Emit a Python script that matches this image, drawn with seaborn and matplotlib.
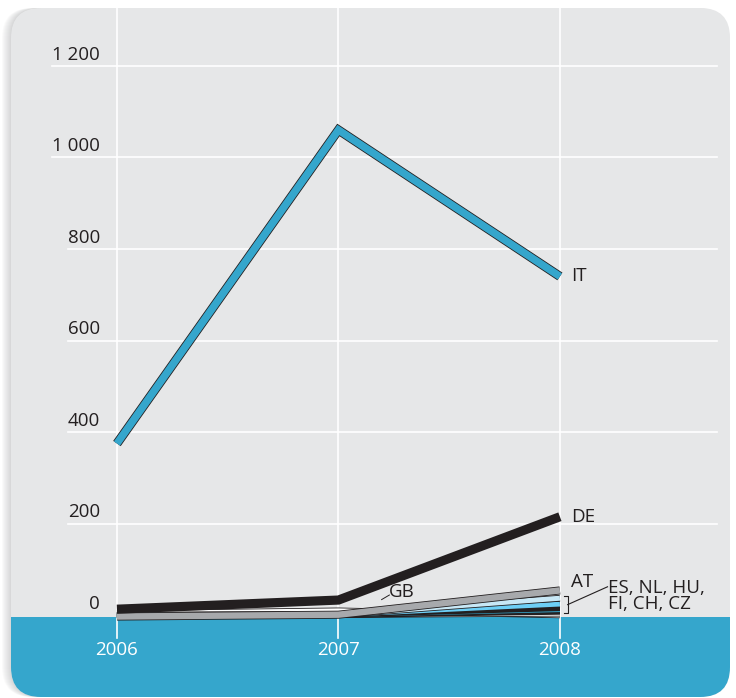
import numpy as np
import pandas as pd
import matplotlib.pyplot as plt
import matplotlib.patheffects as pe
from matplotlib.patches import FancyBboxPatch, Rectangle
import seaborn as sns

# data
years = [2006, 2007, 2008]
series_names = ["GB", "CZ", "CH", "FI", "HU", "NL", "ES", "AT", "DE", "IT"]
series_values = {
    "GB": [4, 10, 0],
    "CZ": [0, 0, 3],
    "CH": [0, 0, 7],
    "FI": [0, 0, 11],
    "HU": [0, 1, 15],
    "NL": [0, 1, 24],
    "ES": [0, 1, 37],
    "AT": [-3, 1, 54],
    "DE": [13, 33, 215],
    "IT": [375, 1060, 740],
}
colors = {
    "GB": "#ffffff", "CZ": "#ffffff", "CH": "#231f20", "FI": "#35a6cc",
    "HU": "#231f20", "NL": "#6dcff6", "ES": "#c8e8f6", "AT": "#a7a9ac",
    "DE": "#231f20", "IT": "#35a6cc",
}
widths = {"IT": 5.4, "DE": 6.6, "AT": 4.6, "GB": 3.2, "ES": 3.6, "NL": 3.4}
yticks = [0, 200, 400, 600, 800, 1000, 1200]
ytick_labels = ["0", "200", "400", "600", "800", "1 000", "1 200"]

df = pd.DataFrame([(n, y, v) for n in series_names
                   for y, v in zip(years, series_values[n])],
                  columns=["country", "year", "value"])

plt.rcParams["font.family"] = ["Open Sans", "DejaVu Sans"]
fig = plt.figure(figsize=(7.36, 6.98), dpi=100)

# background panel in pixel coordinates
bg = fig.add_axes([0, 0, 1, 1])
bg.set_xlim(0, 736)
bg.set_ylim(698, 0)
bg.axis("off")
for i in range(10):
    bg.add_patch(FancyBboxPatch((11 - i, 8), 719, 689, boxstyle="round,pad=0,rounding_size=30",
                                fc="#808285", ec="none", alpha=0.035))
bg.add_patch(FancyBboxPatch((11, 8), 719, 689, boxstyle="round,pad=0,rounding_size=30",
                            fc="#e6e7e8", ec="none"))
bg.add_patch(Rectangle((11, 617), 719, 50, fc="#35a6cc", ec="none"))
bg.add_patch(FancyBboxPatch((11, 637), 719, 60, boxstyle="round,pad=0,rounding_size=30",
                            fc="#35a6cc", ec="none"))

# main axes, data coords mapped onto the figure
ax = fig.add_axes([0, 0, 1, 1])
ax.patch.set_alpha(0)
ax.set_xlim(2005.472, 2008.795)
ax.set_ylim(-181, 1344)
ax.axis("off")

# vertical white gridlines
for yr in years:
    ax.plot([yr, yr], [-50, 1344], color="white", lw=1.2, zorder=1)

# y tick labels
label_x = 2006 - 0.077
tick_texts = []
for v, lab in zip(yticks, ytick_labels):
    t = ax.text(label_x, v + 5, lab, ha="right", va="bottom", fontsize=13.5,
                color="#231f20", zorder=3)
    tick_texts.append(t)

fig.canvas.draw()
renderer = fig.canvas.get_renderer()
inv = ax.transData.inverted()
for v, t in zip(yticks, tick_texts):
    if v == 0:
        continue
    x0 = inv.transform(t.get_window_extent(renderer).p0)[0]
    ax.plot([x0, 2008.71], [v, v], color="white", lw=1.2, zorder=1)

# x tick labels inside blue band
for yr in years:
    ax.text(yr, -76, str(yr), ha="center", va="center", fontsize=13.5, color="white")

sns.lineplot(data=df, x="year", y="value", hue="country", hue_order=series_names,
             palette=colors, legend=False, ax=ax, zorder=4)

for line, name in zip(ax.get_lines()[-len(series_names):], series_names):
    lw = widths.get(name, 2.8)
    line.set_linewidth(lw)
    line.set_solid_capstyle("butt")
    line.set_solid_joinstyle("miter")
    if name != "DE":
        line.set_path_effects([pe.Stroke(linewidth=lw + 1.2, foreground="#231f20"), pe.Normal()])

# series labels
lab_kw = dict(fontsize=13.5, color="#231f20", zorder=6)
ax.text(2008.05, 740, "IT", ha="left", va="center", **lab_kw)
ax.text(2008.05, 215, "DE", ha="left", va="center", **lab_kw)
ax.text(2008.05, 72, "AT", ha="left", va="center", **lab_kw)
ax.text(2008.215, 42, "ES, NL, HU,\nFI, CH, CZ", ha="left", va="center",
        linespacing=0.85, **lab_kw)
ax.text(2007.23, 50, "GB", ha="left", va="center", **lab_kw)
ax.plot([2007.195, 2007.23], [34, 44], color="#231f20", lw=0.7, zorder=6)

# bracket for small series
ax.plot([2008.02, 2008.035, 2008.035, 2008.02], [41, 41, 5, 5], color="#231f20", lw=0.8)
ax.plot([2008.035, 2008.215], [23, 62], color="#231f20", lw=0.8)

fig.savefig("out.png", dpi=100)
